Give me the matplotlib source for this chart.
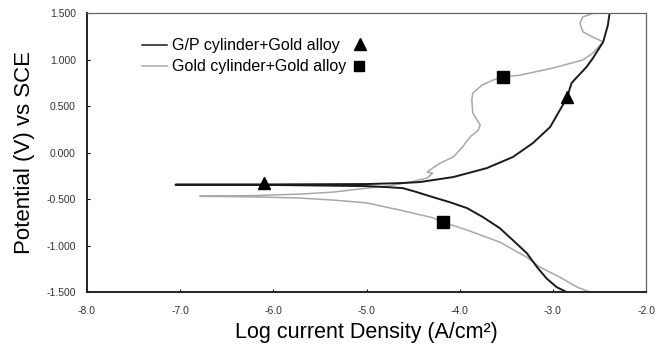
import matplotlib
matplotlib.use('Agg')
import matplotlib.pyplot as plt

# G/P cylinder + Gold alloy (black): cathodic end -> Ecorr spike -> anodic end
gp_x = [-2.85, -2.96, -3.07, -3.17, -3.28, -3.43, -3.57, -3.75, -3.92, -4.11, -4.29, -4.46,
        -4.61, -4.78, -5.00, -6.00, -7.05,
        -6.00, -5.00, -4.64, -4.43, -4.07, -3.71, -3.43, -3.215, -3.03, -2.925, -2.85,
        -2.80, -2.74, -2.64, -2.57, -2.46, -2.41, -2.39]
gp_y = [-1.50, -1.446, -1.35, -1.231, -1.081, -0.941, -0.812, -0.694, -0.597, -0.532, -0.478, -0.425,
        -0.382, -0.371, -0.36, -0.348, -0.345,
        -0.342, -0.338, -0.328, -0.317, -0.263, -0.167, -0.048, 0.102, 0.274, 0.457, 0.586,
        0.747, 0.812, 0.919, 1.016, 1.19, 1.37, 1.51]

# Gold cylinder + Gold alloy (gray)
au_x = [-2.60, -2.74, -2.925, -3.14, -3.28, -3.57, -3.92, -4.18, -4.29, -4.64, -5.00, -5.36,
        -5.715, -6.20, -6.79,
        -6.20, -5.715, -5.36, -5.00, -4.78, -4.53, -4.35, -4.29, -4.35, -4.29, -4.21,
        -4.07, -3.97, -3.89, -3.80, -3.78, -3.86, -3.87, -3.86, -3.76, -3.64, -3.54,
        -3.35, -3.00, -2.68, -2.57, -2.46, -2.57, -2.68, -2.71, -2.68, -2.53]
au_y = [-1.50, -1.446, -1.339, -1.23, -1.124, -0.962, -0.833, -0.747, -0.70, -0.618, -0.54, -0.51,
        -0.489, -0.476, -0.47,
        -0.462, -0.446, -0.425, -0.382, -0.36, -0.317, -0.274, -0.22, -0.21, -0.167, -0.113,
        -0.048, 0.059, 0.167, 0.242, 0.296, 0.425, 0.565, 0.64, 0.726, 0.78, 0.81,
        0.833, 0.909, 0.995, 1.07, 1.19, 1.24, 1.30, 1.39, 1.457, 1.51]

# marker positions
tri_x = [-6.10, -2.85]
tri_y = [-0.33, 0.60]
sq_x = [-3.54, -4.18]
sq_y = [0.81, -0.75]

x_ticks = [-8.0, -7.0, -6.0, -5.0, -4.0, -3.0, -2.0]
y_ticks = [-1.5, -1.0, -0.5, 0.0, 0.5, 1.0, 1.5]

plt.rcParams['font.family'] = ['Liberation Sans', 'DejaVu Sans']
plt.rcParams['axes.unicode_minus'] = False

fig = plt.figure(figsize=(6.64, 3.52), dpi=100)
ax = fig.add_axes([0.131, 0.170, 0.842, 0.793])

ax.plot(au_x, au_y, color='#a8a8a8', linewidth=1.1, solid_joinstyle='round')
ax.plot(gp_x, gp_y, color='#1a1a1a', linewidth=1.4, solid_joinstyle='round')
ax.plot(tri_x, tri_y, linestyle='none', marker='^', markersize=9, color='black')
ax.plot(sq_x, sq_y, linestyle='none', marker='s', markersize=8, color='black')

ax.set_xlim(-8, -2)
ax.set_ylim(-1.5, 1.5)
ax.set_xticks(x_ticks)
ax.set_xticklabels([f'{v:.1f}' for v in x_ticks])
ax.set_yticks(y_ticks)
ax.set_yticklabels([f'{v:.3f}' for v in y_ticks])
ax.tick_params(labelsize=7.5, labelcolor='#333333', length=2, width=0.8, direction='in')
ax.tick_params(axis='x', pad=10)
ax.tick_params(axis='y', pad=8)

for side in ['left', 'bottom']:
    ax.spines[side].set_linewidth(1.4)
    ax.spines[side].set_color('#222222')
for side in ['top', 'right']:
    ax.spines[side].set_linewidth(0.9)
    ax.spines[side].set_color('#666666')

ax.set_xlabel('Log current Density (A/cm²)', fontsize=15.5, labelpad=4)
ax.set_ylabel('Potential (V) vs SCE', fontsize=16, labelpad=8)

# manual legend
tr = ax.transAxes
ax.plot([0.098, 0.143], [0.885, 0.885], color='#1a1a1a', linewidth=1.1, transform=tr)
ax.plot([0.098, 0.143], [0.810, 0.810], color='#a8a8a8', linewidth=1.1, transform=tr)
ax.text(0.152, 0.885, 'G/P cylinder+Gold alloy', fontsize=11.5, va='center', transform=tr)
ax.text(0.152, 0.810, 'Gold cylinder+Gold alloy', fontsize=11.5, va='center', transform=tr)
ax.plot([0.488], [0.889], marker='^', markersize=8, color='black', transform=tr)
ax.plot([0.487], [0.810], marker='s', markersize=7, color='black', transform=tr)

fig.savefig('out.png', dpi=100)
